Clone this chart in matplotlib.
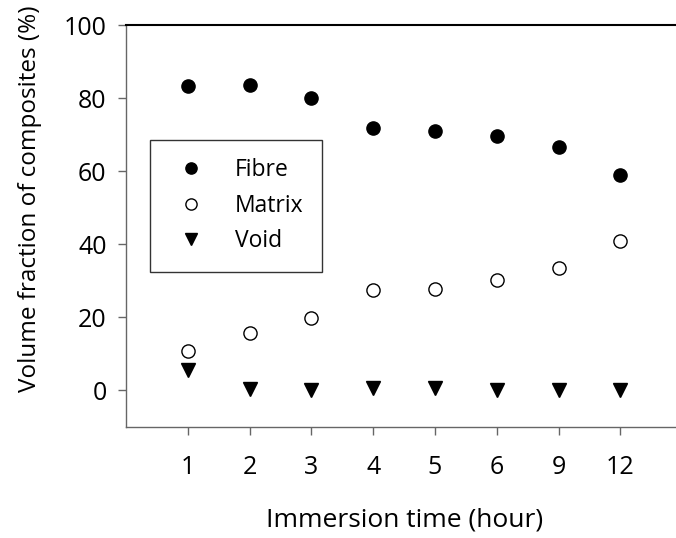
import matplotlib
matplotlib.use("Agg")
import matplotlib.pyplot as plt

# 데이터
times  = ["1", "2", "3", "4", "5", "6", "9", "12"]
fibre  = [83.3, 83.7, 79.9, 71.8, 71.0, 69.6, 66.6, 58.9]
matrix = [10.7, 15.6, 19.7, 27.4, 27.9, 30.1, 33.4, 40.8]
void   = [5.5, 0.3, 0.0, 0.8, 0.8, 0.0, 0.0, 0.0]

plt.rcParams['font.family'] = ['Open Sans', 'DejaVu Sans']

fig = plt.figure(figsize=(6.76, 5.38), dpi=100)
ax = fig.add_axes([0.1864, 0.2063, 0.8136, 0.7472])

pos = list(range(1, len(times) + 1))
ax.plot(pos, fibre, "o", color="black", ms=9.5, label="Fibre", clip_on=False)
ax.plot(pos, matrix, "o", mfc="white", mec="black", mew=1.0, ms=9.5, label="Matrix", clip_on=False)
ax.plot(pos, void, "v", color="black", ms=9.5, label="Void", clip_on=False)

ax.set_xlim(0, 8.9)
ax.set_ylim(-10, 100)
ax.set_xticks(pos)
ax.set_xticklabels(times)
ax.set_yticks([0, 20, 40, 60, 80, 100])

ax.spines["right"].set_visible(False)
ax.spines["top"].set_color("black")
ax.spines["top"].set_linewidth(1.5)
for s in ["left", "bottom"]:
    ax.spines[s].set_color("#666666")
    ax.spines[s].set_linewidth(1.0)

ax.tick_params(axis="both", direction="out", length=6, width=1, color="#666666",
               labelsize=18, pad=8)
ax.tick_params(axis="x", pad=14)

ax.set_xlabel("Immersion time (hour)", fontsize=19)
ax.set_ylabel("Volume fraction of composites (%)", fontsize=17.5)
ax.xaxis.set_label_coords(0.507, -0.2)
ax.yaxis.set_label_coords(-0.153, 0.567)

leg = ax.legend(loc="upper left", bbox_to_anchor=(0.0436, 0.714), borderaxespad=0,
                fontsize=16.5, frameon=True, fancybox=False, markerscale=0.85,
                handletextpad=0.9, borderpad=0.8, labelspacing=0.5, handlelength=2.0)
leg.get_frame().set_edgecolor("black")
leg.get_frame().set_linewidth(1.0)

fig.savefig("out.png", dpi=100)
